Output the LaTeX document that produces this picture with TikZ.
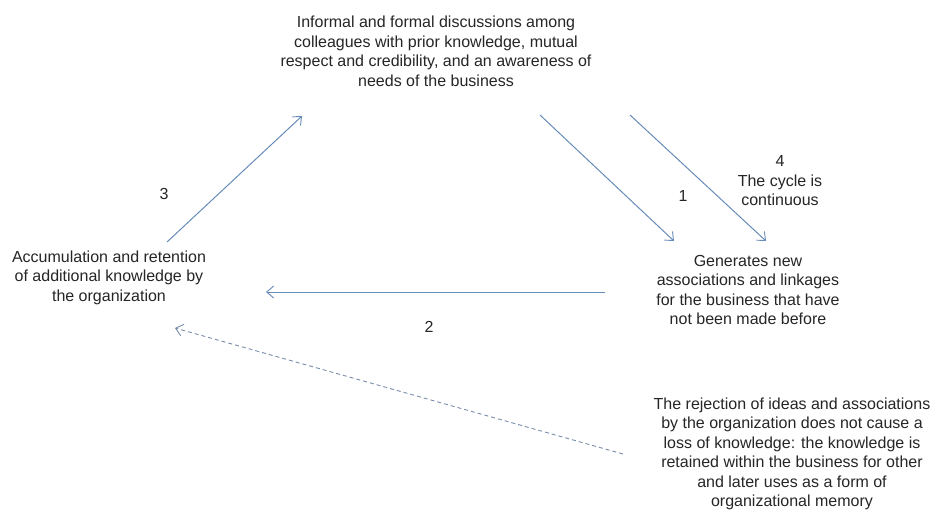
\documentclass[tikz,border=0pt]{standalone}
\usepackage{fontspec}
\setmainfont{Liberation Sans}
\usetikzlibrary{arrows.meta}
\definecolor{txt}{RGB}{38,38,38}
\definecolor{arr}{RGB}{104,140,186}
\definecolor{darr}{RGB}{122,142,172}
\tikzset{
  lbl/.style={text=txt, align=center, inner sep=0pt, font=\fontsize{16pt}{19.5pt}\selectfont},
  conn/.style={draw=arr, line width=1pt, -{Straight Barb[length=7pt,width=12pt,line width=0.9pt]}},
  dconn/.style={draw=darr, line width=0.9pt, dash pattern=on 4pt off 3pt, -{Straight Barb[length=7pt,width=12pt,line width=0.9pt]}}
}
\begin{document}
\begin{tikzpicture}[x=1pt,y=-1pt]
\useasboundingbox[fill=white] (0,0) rectangle (933,511);
\node[lbl] (top) at (436,51.5) {Informal and formal discussions among\\colleagues with prior knowledge, mutual\\respect and credibility, and an awareness of\\needs of the business};
\node[lbl] (left) at (109,277.5) {Accumulation and retention\\of additional knowledge by\\the organization};
\node[lbl] (right) at (748,290) {Generates new\\associations and linkages\\for the business that have\\not been made before};
\node[lbl] (bottom) at (792,454) {The rejection of ideas and associations\\by the organization does not cause a\\loss of knowledge: the knowledge is\\retained within the business for other\\and later uses as a form of\\organizational memory};
\node[lbl] (cycle) at (780,181) {4\\The cycle is\\continuous};
\node[lbl] (n1) at (683,196) {1};
\node[lbl] (n2) at (429,327) {2};
\node[lbl] (n3) at (164,194) {3};
\coordinate (a1s) at (540,115);
\coordinate (a1e) at (674,241);
\coordinate (a4s) at (630,115);
\coordinate (a4e) at (766,241);
\coordinate (a3s) at (167,242);
\coordinate (a3e) at (302,116);
\coordinate (a2s) at (605,292);
\coordinate (a2e) at (266,292);
\coordinate (d1s) at (623,454);
\coordinate (d1e) at (175,328);
\draw[conn] (a1s) -- (a1e);
\draw[conn] (a4s) -- (a4e);
\draw[conn] (a3s) -- (a3e);
\draw[conn] (a2s) -- (a2e);
\draw[dconn] (d1s) -- (d1e);
\end{tikzpicture}
\end{document}
